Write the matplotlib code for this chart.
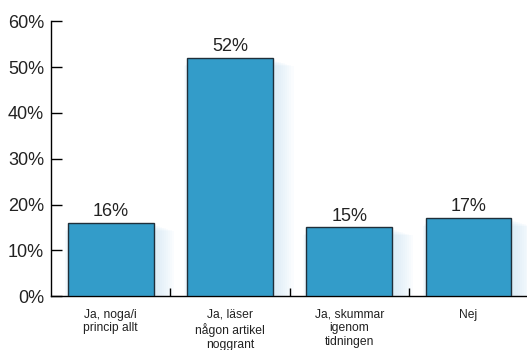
import matplotlib.pyplot as plt
import numpy as np

categories = ["Ja, noga/i\nprincip allt", "Ja, läser\nnågon artikel\nnoggrant",
              "Ja, skummar\nigenom\ntidningen", "Nej"]
values = [16, 52, 15, 17]
yticks = [0, 10, 20, 30, 40, 50, 60]

plt.rcParams['font.family'] = ['Liberation Sans', 'DejaVu Sans']

fig = plt.figure(figsize=(5.27, 3.5), dpi=100)
ax = fig.add_axes([0.097, 0.154, 0.905, 0.785])

x = np.arange(len(categories))

# soft glow behind the bars, mostly to the right and below
for i in range(10):
    ax.bar(x + 0.02 + i * 0.006, values, width=0.72 + i * 0.022,
           bottom=-0.5 - i * 0.14, color="#c6e2f2", alpha=0.07,
           linewidth=0, zorder=1)

bars = ax.bar(x, values, width=0.72, color="#339cc9", edgecolor="#1f2f3a",
              linewidth=1.0, zorder=3)

for b, v in zip(bars, values):
    ax.annotate(f"{v}%", (b.get_x() + b.get_width() / 2, v),
                xytext=(0, 2), textcoords="offset points",
                ha="center", va="bottom", fontsize=13, color="#222222")

ax.set_xlim(-0.5, len(categories) - 0.5)
ax.set_ylim(0, 60)
ax.set_yticks(yticks)
ax.set_yticklabels([f"{t}%" for t in yticks], fontsize=13, color="#222222")
ax.tick_params(axis="y", direction="in", length=8, width=1, pad=5)

ax.set_xticks(x)
ax.set_xticklabels(categories, fontsize=8.7, color="#222222", linespacing=1.2,
                   va="top")
ax.tick_params(axis="x", which="major", length=0, pad=9)
ax.set_xticks(x[:-1] + 0.5, minor=True)
ax.tick_params(axis="x", which="minor", direction="in", length=6, width=1)

for s in ["top", "right"]:
    ax.spines[s].set_visible(False)
ax.spines["left"].set_linewidth(1)
ax.spines["bottom"].set_linewidth(1)

fig.savefig("out.png", dpi=100)
